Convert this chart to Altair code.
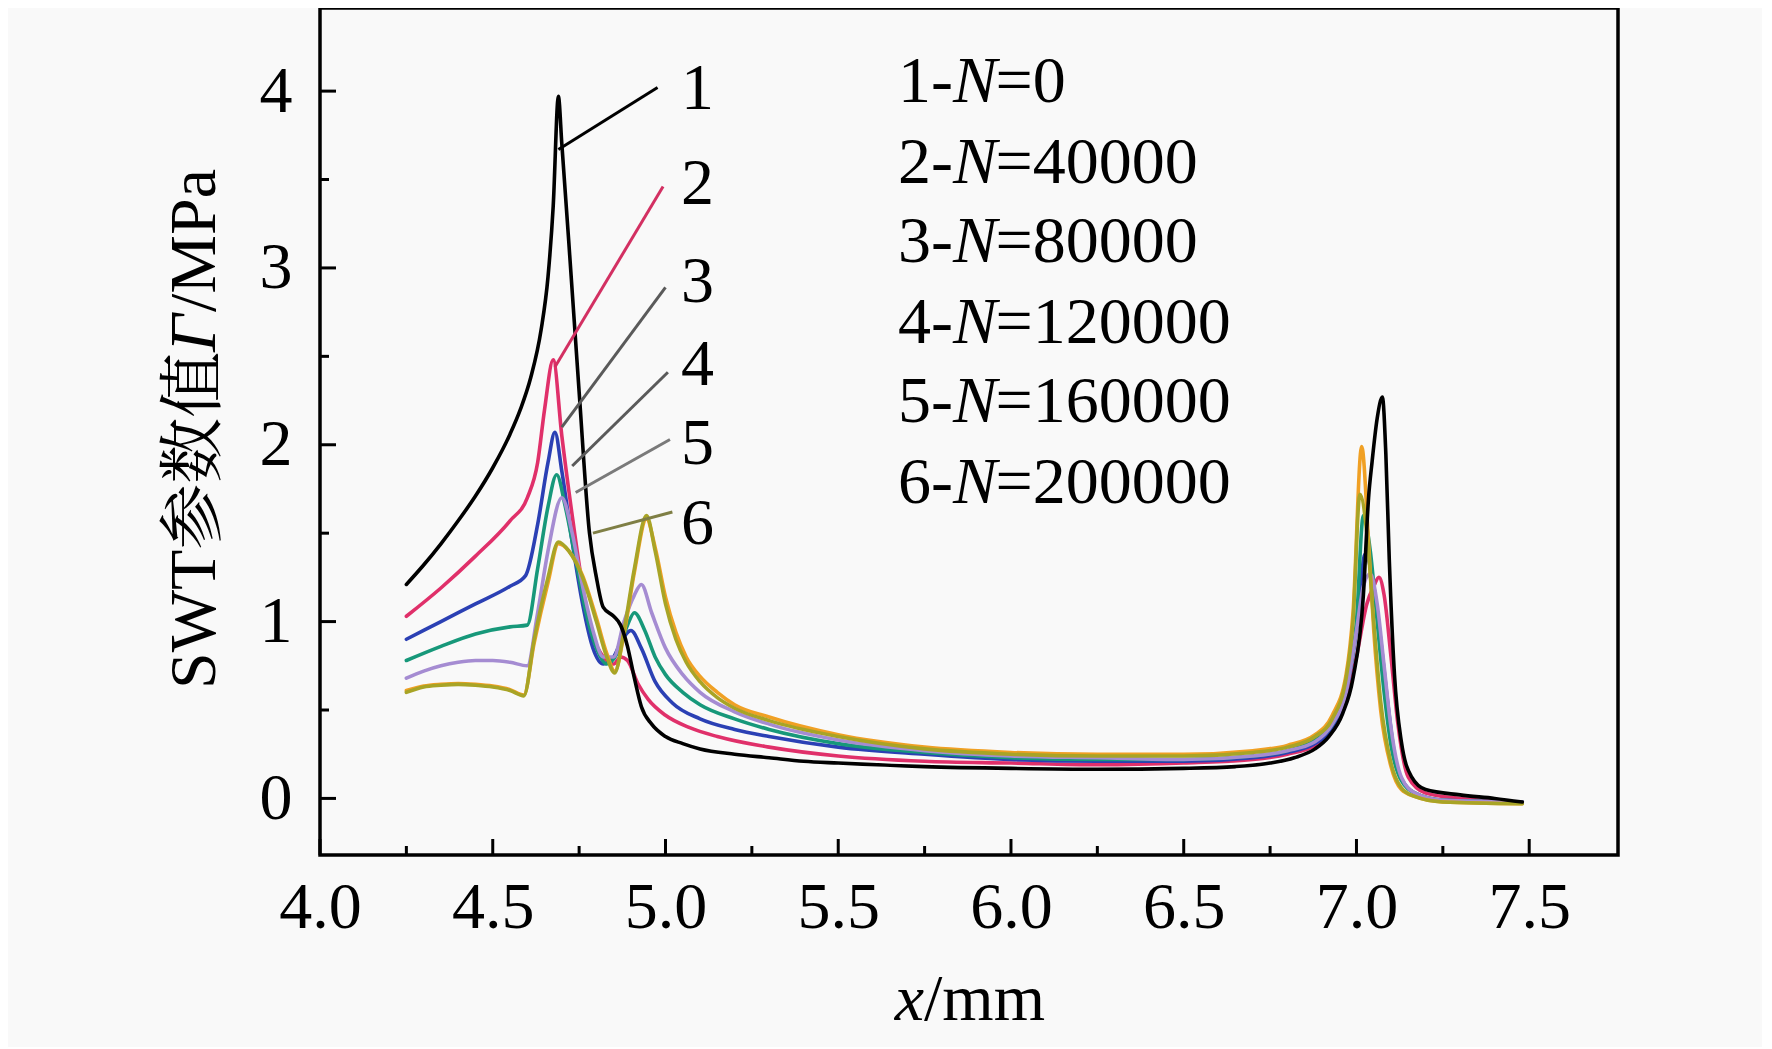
import altair as alt
import pandas as pd

# ---------------- data ----------------
x1 = [4.25,4.30,4.35,4.40,4.45,4.50,4.55,4.58,4.61,4.64,4.66,4.675,4.69,4.70,4.72,4.75,4.78,4.80,4.82,4.85,4.87,4.89,4.91,4.93,4.96,5.00,5.05,5.10,5.20,5.30,5.40,5.50,5.75,6.00,6.25,6.50,6.65,6.75,6.82,6.88,6.92,6.96,6.99,7.02,7.035,7.045,7.06,7.075,7.085,7.095,7.11,7.13,7.16,7.20,7.30,7.40,7.48]
y1 = [1.21,1.32,1.44,1.57,1.71,1.87,2.06,2.20,2.38,2.65,2.95,3.35,3.97,3.70,3.15,2.30,1.50,1.25,1.08,1.03,0.98,0.86,0.68,0.52,0.42,0.35,0.31,0.28,0.25,0.23,0.21,0.20,0.18,0.17,0.165,0.17,0.18,0.20,0.23,0.28,0.35,0.48,0.68,1.15,1.70,1.90,2.15,2.27,1.95,1.35,0.70,0.32,0.12,0.05,0.02,0.00,-0.02]

x2 = [4.25,4.35,4.45,4.55,4.60,4.63,4.65,4.675,4.70,4.73,4.76,4.79,4.82,4.85,4.87,4.89,4.92,4.95,5.00,5.07,5.15,5.30,5.50,5.75,6.00,6.25,6.50,6.70,6.80,6.88,6.93,6.97,7.00,7.03,7.05,7.065,7.08,7.10,7.12,7.15,7.20,7.30,7.48]
y2 = [1.03,1.19,1.37,1.57,1.70,1.90,2.20,2.48,2.05,1.60,1.20,0.92,0.80,0.76,0.80,0.78,0.65,0.56,0.47,0.40,0.35,0.29,0.24,0.21,0.20,0.19,0.20,0.22,0.25,0.30,0.38,0.55,0.80,1.10,1.20,1.25,1.15,0.80,0.42,0.12,0.03,0.00,-0.02]

x3 = [4.25,4.35,4.45,4.55,4.595,4.63,4.66,4.68,4.70,4.73,4.76,4.79,4.82,4.85,4.87,4.90,4.93,4.97,5.02,5.10,5.20,5.30,5.50,5.75,6.00,6.25,6.50,6.70,6.80,6.88,6.93,6.97,7.00,7.025,7.05,7.07,7.09,7.11,7.14,7.18,7.25,7.48]
y3 = [0.90,1.00,1.10,1.20,1.26,1.55,1.90,2.07,1.85,1.45,1.10,0.85,0.76,0.80,0.88,0.95,0.85,0.66,0.54,0.45,0.39,0.35,0.29,0.25,0.22,0.21,0.21,0.23,0.26,0.31,0.40,0.60,0.95,1.38,1.20,0.90,0.55,0.25,0.08,0.02,-0.01,-0.02]

x4 = [4.25,4.35,4.45,4.55,4.60,4.63,4.66,4.685,4.71,4.74,4.77,4.80,4.83,4.86,4.89,4.91,4.94,4.97,5.00,5.05,5.10,5.20,5.30,5.50,5.75,6.00,6.25,6.50,6.70,6.80,6.88,6.93,6.97,7.00,7.02,7.04,7.06,7.08,7.10,7.13,7.17,7.25,7.48]
y4 = [0.78,0.86,0.93,0.97,0.98,1.30,1.65,1.83,1.65,1.35,1.05,0.85,0.76,0.82,0.98,1.05,0.95,0.80,0.70,0.60,0.53,0.45,0.39,0.31,0.26,0.23,0.22,0.22,0.24,0.27,0.33,0.42,0.62,1.00,1.60,1.40,1.00,0.60,0.30,0.10,0.03,-0.01,-0.02]

x5 = [4.25,4.30,4.35,4.40,4.45,4.50,4.55,4.60,4.63,4.66,4.70,4.73,4.76,4.79,4.82,4.85,4.88,4.91,4.93,4.96,5.00,5.05,5.10,5.20,5.30,5.50,5.75,6.00,6.25,6.50,6.70,6.80,6.88,6.93,6.97,7.00,7.02,7.04,7.06,7.08,7.10,7.13,7.17,7.25,7.48]
y5 = [0.68,0.72,0.75,0.77,0.78,0.78,0.77,0.75,1.05,1.40,1.70,1.50,1.20,0.95,0.80,0.80,1.00,1.15,1.21,1.05,0.85,0.70,0.60,0.49,0.42,0.33,0.27,0.24,0.23,0.22,0.24,0.27,0.32,0.42,0.60,0.95,1.20,1.27,1.10,0.75,0.40,0.12,0.03,-0.01,-0.02]

x6 = [4.25,4.30,4.35,4.40,4.45,4.50,4.55,4.59,4.62,4.66,4.69,4.72,4.76,4.80,4.83,4.853,4.88,4.91,4.945,4.97,5.00,5.03,5.06,5.10,5.15,5.20,5.30,5.50,5.75,6.00,6.25,6.50,6.70,6.80,6.88,6.93,6.97,6.99,7.01,7.03,7.05,7.07,7.10,7.13,7.17,7.25,7.48]
y6 = [0.60,0.63,0.64,0.645,0.64,0.63,0.61,0.58,0.90,1.25,1.45,1.40,1.25,1.00,0.80,0.71,0.95,1.30,1.60,1.40,1.10,0.90,0.77,0.66,0.57,0.51,0.44,0.35,0.28,0.25,0.24,0.24,0.26,0.29,0.35,0.45,0.68,1.00,1.72,1.50,1.00,0.55,0.20,0.06,0.01,-0.02,-0.03]

x7 = [4.25,4.30,4.35,4.40,4.45,4.50,4.55,4.59,4.62,4.66,4.69,4.72,4.76,4.80,4.83,4.853,4.88,4.91,4.945,4.97,5.00,5.03,5.06,5.10,5.15,5.20,5.30,5.50,5.75,6.00,6.25,6.50,6.70,6.80,6.88,6.93,6.97,6.99,7.015,7.035,7.05,7.07,7.10,7.13,7.17,7.25,7.48]
y7 = [0.61,0.635,0.645,0.65,0.645,0.635,0.615,0.585,0.88,1.22,1.44,1.40,1.26,1.02,0.82,0.72,0.93,1.28,1.58,1.42,1.14,0.94,0.80,0.69,0.60,0.53,0.46,0.36,0.29,0.26,0.25,0.25,0.27,0.30,0.36,0.47,0.70,1.05,1.99,1.45,0.95,0.50,0.18,0.05,0.01,-0.02,-0.03]

series_x = [x2, x3, x4, x5, x7, x6, x1]
series_y = [y2, y3, y4, y5, y7, y6, y1]
series_colors = ["#e0306a", "#2b40b4", "#17987a", "#a58cd2", "#f0a024", "#a8a426", "#000000"]

# leader lines from curve peaks to the number labels
lead_x = [4.69, 4.68, 4.70, 4.73, 4.74, 4.79]
lead_y = [3.67, 2.44, 2.10, 1.88, 1.73, 1.50]
lead_x2 = [4.977, 4.993, 5.00, 5.007, 5.013, 5.02]
lead_y2 = [4.02, 3.46, 2.89, 2.41, 2.03, 1.62]
lead_colors = ["#000000", "#d33062", "#5a5a5a", "#5a5a5a", "#7a7a7a", "#7f7f45"]

curve_numbers = ["1", "2", "3", "4", "5", "6"]
curve_num_x = [5.045, 5.045, 5.045, 5.045, 5.045, 5.045]
curve_num_y = [3.90, 3.36, 2.81, 2.34, 1.89, 1.44]

legend_prefix = ["1-", "2-", "3-", "4-", "5-", "6-"]
legend_italic = ["N", "N", "N", "N", "N", "N"]
legend_rest = ["=0", "=40000", "=80000", "=120000", "=160000", "=200000"]
legend_y = [3.936, 3.482, 3.035, 2.575, 2.128, 1.668]
legend_x_split = 5.832
legend_x_rest = 5.955

x_ticks_major = [4.0, 4.5, 5.0, 5.5, 6.0, 6.5, 7.0, 7.5]
x_ticks_minor = [4.25, 4.75, 5.25, 5.75, 6.25, 6.75, 7.25]
y_ticks_major = [0, 1, 2, 3, 4]
y_ticks_minor = [0.5, 1.5, 2.5, 3.5]

# ---------------- chart ----------------
W, H = 1298, 847
FONT = "Liberation Serif, 'Times New Roman', 'Noto Serif CJK SC', 'Noto Sans CJK SC', serif"
FS = 66

xs = alt.Scale(domain=[4.0, 7.757], nice=False, zero=False)
ys = alt.Scale(domain=[-0.32, 4.47], nice=False, zero=False)
xaxis = alt.Axis(values=x_ticks_major, format=".1f", title=None, ticks=False, tickSize=0,
                 domain=False, grid=False, labelFont=FONT, labelFontSize=FS,
                 labelColor="black", labelPadding=20, labelFlush=False, labelOverlap=False)
yaxis = alt.Axis(values=y_ticks_major, format="d", title=None, ticks=False, tickSize=0,
                 domain=False, grid=False, labelFont=FONT, labelFontSize=FS,
                 labelColor="black", labelPadding=28, labelOverlap=False)

def X(field):
    return alt.X(field, type="quantitative", scale=xs, axis=xaxis)

def Y(field):
    return alt.Y(field, type="quantitative", scale=ys, axis=yaxis)

layers = []
for sx, sy, col in zip(series_x, series_y, series_colors):
    df = pd.DataFrame({"x": sx, "y": sy})
    layers.append(
        alt.Chart(df).mark_line(color=col, strokeWidth=3.6, interpolate="monotone",
                                strokeJoin="round", strokeCap="round")
        .encode(x=X("x"), y=Y("y"))
    )

lead_df = pd.DataFrame({"x": lead_x, "y": lead_y, "x2": lead_x2, "y2": lead_y2, "c": lead_colors})
layers.append(
    alt.Chart(lead_df).mark_rule(strokeWidth=3)
    .encode(x=X("x"), y=Y("y"), x2="x2", y2="y2",
            color=alt.Color("c:N", scale=None, legend=None))
)

num_df = pd.DataFrame({"x": curve_num_x, "y": curve_num_y, "t": curve_numbers})
layers.append(
    alt.Chart(num_df).mark_text(font=FONT, fontSize=FS, align="left", baseline="alphabetic", color="black")
    .encode(x=X("x"), y=Y("y"), text="t:N")
)

leg_df = pd.DataFrame({"y": legend_y, "p": legend_prefix, "n": legend_italic, "r": legend_rest,
                       "xs": [legend_x_split] * 6, "xr": [legend_x_rest] * 6})
layers.append(
    alt.Chart(leg_df).mark_text(font=FONT, fontSize=FS, align="right", baseline="alphabetic", color="black")
    .encode(x=X("xs"), y=Y("y"), text="p:N")
)
layers.append(
    alt.Chart(leg_df).mark_text(font=FONT, fontSize=FS, fontStyle="italic", align="left",
                                baseline="alphabetic", color="black")
    .encode(x=X("xs"), y=Y("y"), text="n:N")
)
layers.append(
    alt.Chart(leg_df).mark_text(font=FONT, fontSize=FS, align="left", baseline="alphabetic", color="black")
    .encode(x=X("xr"), y=Y("y"), text="r:N")
)

# inward tick marks
layers.append(
    alt.Chart(pd.DataFrame({"v": x_ticks_major})).mark_rule(color="black", strokeWidth=3)
    .encode(x=X("v"), y=alt.value(H), y2=alt.value(H - 16))
)
layers.append(
    alt.Chart(pd.DataFrame({"v": x_ticks_minor})).mark_rule(color="black", strokeWidth=3)
    .encode(x=X("v"), y=alt.value(H), y2=alt.value(H - 9))
)
layers.append(
    alt.Chart(pd.DataFrame({"v": y_ticks_major})).mark_rule(color="black", strokeWidth=3)
    .encode(y=Y("v"), x=alt.value(0), x2=alt.value(16))
)
layers.append(
    alt.Chart(pd.DataFrame({"v": y_ticks_minor})).mark_rule(color="black", strokeWidth=3)
    .encode(y=Y("v"), x=alt.value(0), x2=alt.value(9))
)

# axis titles with italic parts
title_df = pd.DataFrame({"a": [0]})
def ttext(txt, x, y, italic=False, angle=0, align="left"):
    kw = dict(font=FONT, fontSize=FS, align=align, baseline="alphabetic", color="black", text=txt)
    if italic:
        kw["fontStyle"] = "italic"
    if angle:
        kw["angle"] = angle
    return alt.Chart(title_df).mark_text(**kw).encode(x=alt.value(x), y=alt.value(y))

layers.append(ttext("x", 604, 1012, italic=True, align="right"))
layers.append(ttext("/mm", 604, 1012))
layers.append(ttext("SWT参数值", -105, 681, angle=270))
layers.append(ttext("Γ", -105, 344, italic=True, angle=270))
layers.append(ttext("/MPa", -105, 304, angle=270))

chart = (
    alt.layer(*layers)
    .properties(width=W, height=H, background="#f9f9f9",
                autosize=alt.AutoSizeParams(type="none"),
                padding={"left": 312, "top": 0, "right": 144, "bottom": 192})
    .configure_view(stroke="black", strokeWidth=3.5, fill="#f9f9f9")
)

chart.save("out.html", embed_options={"renderer": "svg", "actions": False})
